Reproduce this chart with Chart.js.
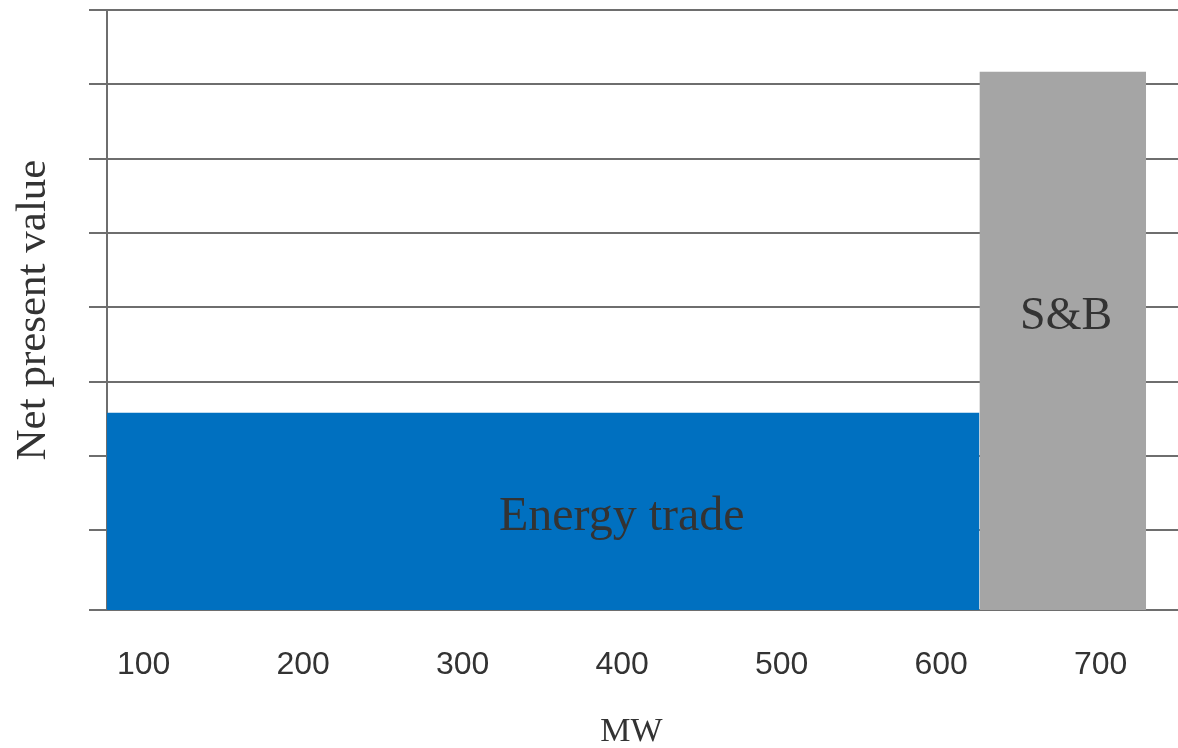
<!DOCTYPE html>
<html>
<head>
<meta charset="utf-8">
<title>Net present value by MW</title>
<script src="https://cdn.jsdelivr.net/npm/chart.js@4/dist/chart.umd.min.js"></script>
<style>
  html, body { margin: 0; padding: 0; background: #ffffff; }
  #wrap { width: 1178px; height: 748px; position: relative; }
</style>
</head>
<body>
<div id="wrap"><canvas id="npv"></canvas></div>
<script>
// Value blocks: each spans a range of MW and has a net present value height
const blockNames  = ['Energy trade', 'S&B'];
const blockStart  = [77, 624];      // MW
const blockEnd    = [624, 728.5];   // MW
const blockValue  = [2.58, 7.17];   // net present value (arbitrary units)
const blockColors = ['#0070C0', '#A5A5A5'];

// Axis ranges and ticks
const xMin = 77, xMax = 748.5;
const xTickValues = [100, 200, 300, 400, 500, 600, 700];
const xTickLabels = ['100', '200', '300', '400', '500', '600', '700'];
const yMin = -0.075, yMax = 8;
const yGridValues = [1, 2, 3, 4, 5, 6, 7, 8];

const textColor = '#333333';
const gridColor = '#6e6e6e';

// Each block is a flat line segment filled down to the axis start
const datasets = blockNames.map((name, i) => ({
  label: name,
  data: [
    { x: blockStart[i], y: blockValue[i] },
    { x: blockEnd[i],   y: blockValue[i] }
  ],
  showLine: true,
  fill: 'start',
  backgroundColor: blockColors[i],
  borderWidth: 0,
  borderColor: 'rgba(0,0,0,0)',
  pointRadius: 0,
  tension: 0
}));

// Text placed inside each block (fractions of the block's width / height)
const blockLabelSpec = [
  { fx: 0.59, fy: 0.47, size: 48 },
  { fx: 0.52, fy: 0.545, size: 46 }
];

const blockLabels = {
  id: 'blockLabels',
  afterDatasetsDraw(chart) {
    const { ctx, scales: { x, y }, chartArea } = chart;
    ctx.save();
    ctx.fillStyle = textColor;
    ctx.textAlign = 'center';
    ctx.textBaseline = 'middle';
    blockNames.forEach((name, i) => {
      const spec = blockLabelSpec[i];
      const left = x.getPixelForValue(blockStart[i]);
      const right = x.getPixelForValue(blockEnd[i]);
      const top = y.getPixelForValue(blockValue[i]);
      const bottom = y.getPixelForValue(yMin);
      ctx.font = spec.size + 'px "Liberation Serif", "Times New Roman", serif';
      ctx.fillText(name, left + (right - left) * spec.fx, bottom - (bottom - top) * spec.fy);
    });
    // horizontal axis title
    ctx.font = '34px "Liberation Serif", "Times New Roman", serif';
    ctx.fillText('MW', (chartArea.left + chartArea.right) / 2 - 11, 732);
    ctx.restore();
  }
};

new Chart(document.getElementById('npv'), {
  type: 'scatter',
  data: { datasets },
  plugins: [blockLabels],
  options: {
    responsive: true,
    maintainAspectRatio: false,
    animation: false,
    devicePixelRatio: 1,
    layout: { padding: { top: 10, right: 0, bottom: 0, left: 0 } },
    plugins: {
      legend: { display: false },
      tooltip: { enabled: false }
    },
    scales: {
      x: {
        type: 'linear',
        min: xMin,
        max: xMax,
        afterBuildTicks(scale) {
          scale.ticks = xTickValues.map(v => ({ value: v }));
        },
        afterFit(scale) { scale.height = 138; },
        grid: { display: false, drawTicks: false },
        border: { display: false },
        ticks: {
          padding: 39,
          color: textColor,
          maxRotation: 0,
          autoSkip: false,
          font: { family: '"Liberation Sans", Arial, sans-serif', size: 32, lineHeight: 1 },
          callback(value) {
            const idx = xTickValues.indexOf(value);
            return idx >= 0 ? xTickLabels[idx] : '';
          }
        }
      },
      y: {
        type: 'linear',
        min: yMin,
        max: yMax,
        afterBuildTicks(scale) {
          scale.ticks = [yMin].concat(yGridValues).map(v => ({ value: v }));
        },
        afterFit(scale) { scale.width = 107; },
        grid: {
          color: gridColor,
          lineWidth: 2,
          drawTicks: true,
          tickLength: 18,
          tickColor: gridColor,
          tickWidth: 2
        },
        border: { display: true, color: gridColor, width: 2 },
        ticks: { display: false },
        title: {
          display: true,
          text: 'Net present value',
          color: textColor,
          font: { family: '"Liberation Serif", "Times New Roman", serif', size: 43, lineHeight: 1 },
          padding: { top: 12, bottom: 0 }
        }
      }
    }
  }
});
</script>
</body>
</html>
